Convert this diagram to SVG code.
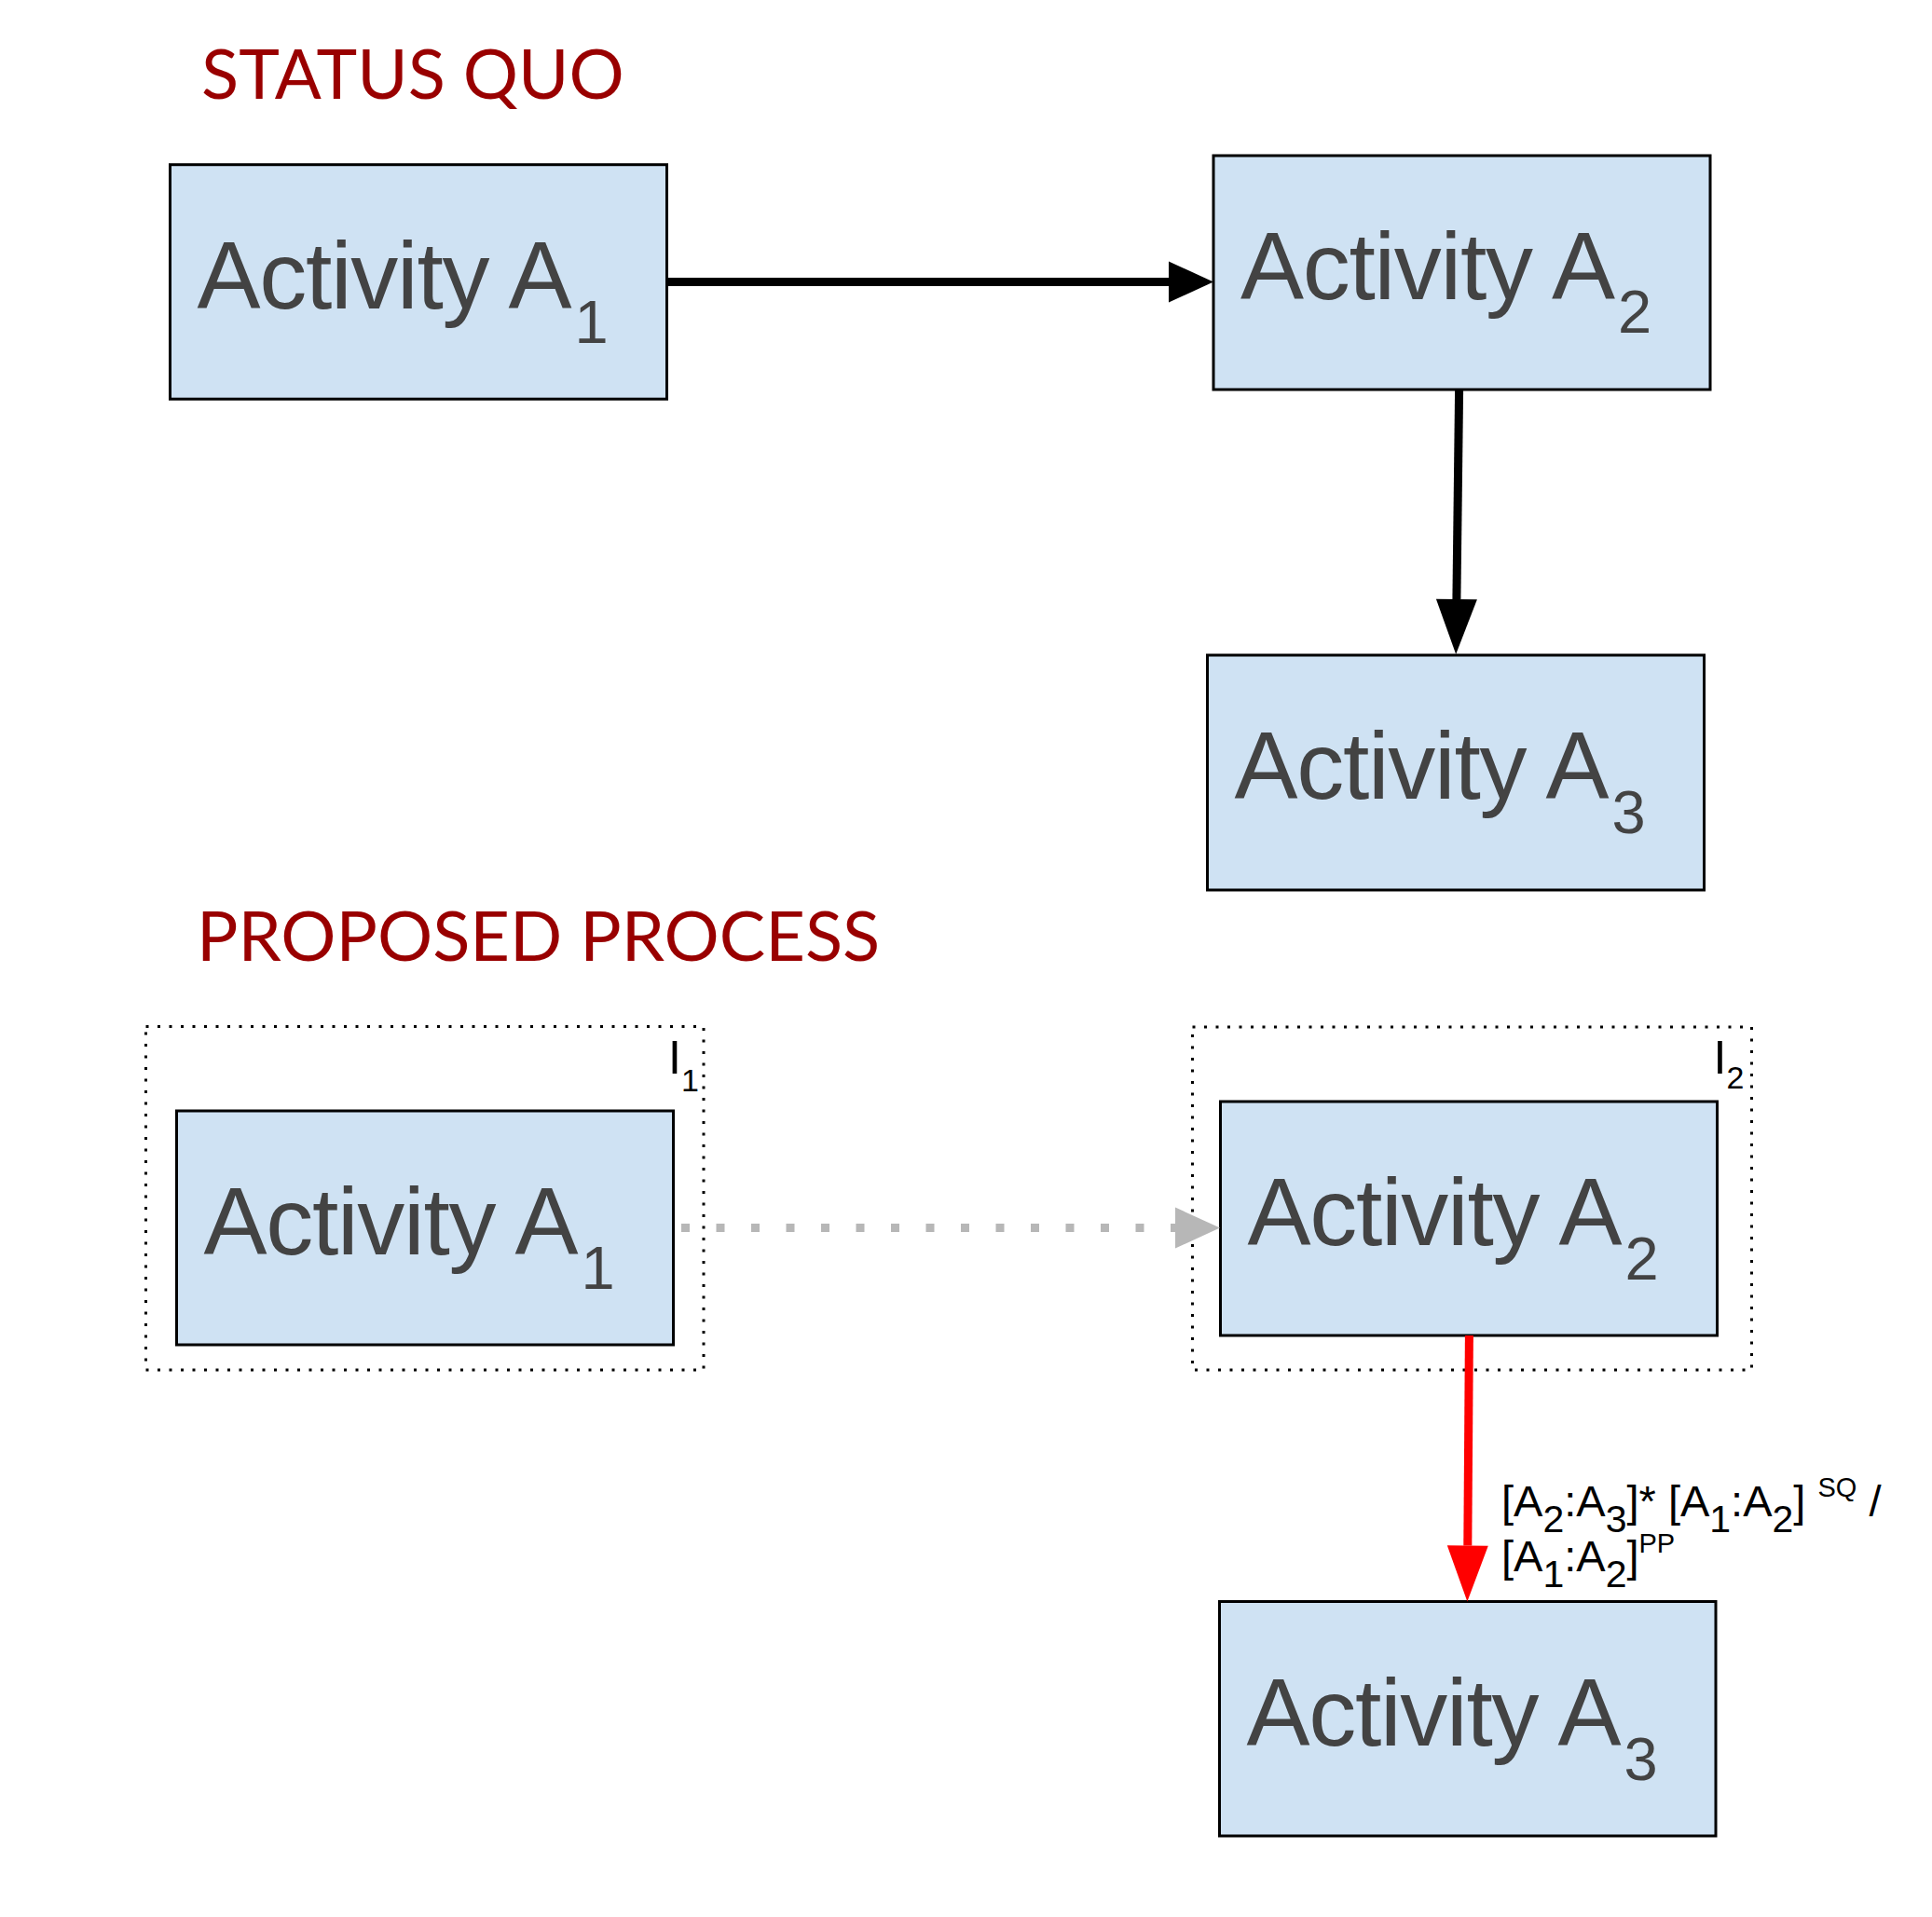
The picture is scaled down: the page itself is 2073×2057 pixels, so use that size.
<svg xmlns="http://www.w3.org/2000/svg" width="2073" height="2057" viewBox="0 0 2073 2057">
<style>
.bg{fill:#ffffff}
.box{fill:#cfe2f3;stroke:#000000;stroke-width:3}
.grp{fill:none;stroke:#000000;stroke-width:3;stroke-dasharray:3 9.5}
.act{font-family:"Liberation Sans",Arial,sans-serif;font-size:102px;fill:#434343;letter-spacing:-1.3px}
.actsub{font-size:65px;letter-spacing:0}
.head{font-family:Lato,"Open Sans",sans-serif;font-size:74px;fill:#990000}
.ilbl{font-family:"Liberation Sans",Arial,sans-serif;font-size:50px;fill:#000000}
.isub{font-size:34px}
.lbl{font-family:"Liberation Sans",Arial,sans-serif;font-size:47px;fill:#000000}
.sub{font-size:41px}
.sup{font-size:29px}
.blk{fill:none;stroke:#000000;stroke-width:9}
.gry{fill:none;stroke:#b7b7b7;stroke-width:9;stroke-dasharray:9 28.5}
.red{fill:none;stroke:#ff0000;stroke-width:9}
</style>
<defs>
<marker id="hBlackS" markerUnits="userSpaceOnUse" markerWidth="48" markerHeight="44" refX="0" refY="22" orient="auto" overflow="visible"><path d="M0,0 L48,22 L0,44 z" fill="#000000"/></marker>
<marker id="hBlackL" markerUnits="userSpaceOnUse" markerWidth="59" markerHeight="44" refX="0" refY="22" orient="auto" overflow="visible"><path d="M0,0 L59,22 L0,44 z" fill="#000000"/></marker>
<marker id="hGreyS" markerUnits="userSpaceOnUse" markerWidth="48" markerHeight="44" refX="0" refY="22" orient="auto" overflow="visible"><path d="M0,0 L48,22 L0,44 z" fill="#b7b7b7"/></marker>
<marker id="hRedL" markerUnits="userSpaceOnUse" markerWidth="60" markerHeight="44" refX="0" refY="22" orient="auto" overflow="visible"><path d="M0,0 L60,22 L0,44 z" fill="#ff0000"/></marker>
</defs>
<rect class="bg" x="0" y="0" width="2073" height="2057"/>

<g id="title-status-quo"><text class="head" x="216" y="106">STATUS QUO</text></g>
<g id="title-proposed"><text class="head" x="211" y="1031">PROPOSED PROCESS</text></g>

<g id="group-I1">
<rect class="grp" x="156.5" y="1101.5" width="598.5" height="368.5"/>
<text class="ilbl" x="717" y="1152">I<tspan class="isub" x="731" y="1171">1</tspan></text>
</g>
<g id="group-I2">
<rect class="grp" x="1279.5" y="1102" width="600" height="368"/>
<text class="ilbl" x="1838.6" y="1152">I<tspan class="isub" x="1852.5" y="1168">2</tspan></text>
</g>

<g id="sq-a1">
<rect class="box" x="182.5" y="176.7" width="533" height="251.5"/>
<text class="act" x="211.5" y="330.7">Activity A<tspan class="actsub" x="616.5" y="367.7">1</tspan></text>
</g>
<g id="sq-a2">
<rect class="box" x="1302" y="167" width="533" height="251"/>
<text class="act" x="1331" y="321">Activity A<tspan class="actsub" x="1736" y="357">2</tspan></text>
</g>
<g id="sq-a3">
<rect class="box" x="1295.5" y="703" width="533" height="252"/>
<text class="act" x="1324.5" y="857">Activity A<tspan class="actsub" x="1729.5" y="894">3</tspan></text>
</g>
<g id="pp-a1">
<rect class="box" x="189.5" y="1192" width="533" height="251"/>
<text class="act" x="218.5" y="1346">Activity A<tspan class="actsub" x="623.5" y="1383">1</tspan></text>
</g>
<g id="pp-a2">
<rect class="box" x="1309.5" y="1182" width="533" height="251"/>
<text class="act" x="1338.5" y="1336">Activity A<tspan class="actsub" x="1743.5" y="1373">2</tspan></text>
</g>
<g id="pp-a3">
<rect class="box" x="1308.5" y="1718.5" width="532.5" height="251.5"/>
<text class="act" x="1337.5" y="1872.5">Activity A<tspan class="actsub" x="1742.5" y="1909.5">3</tspan></text>
</g>

<g id="connectors">
<path class="blk" d="M716,302.5 L1254,302.5" marker-end="url(#hBlackS)"/>
<path class="blk" d="M1565.6,418 L1562.9,643" marker-end="url(#hBlackL)"/>
<path class="gry" d="M731,1317.5 L1261,1317.5" marker-end="url(#hGreyS)"/>
<path class="red" d="M1576.4,1433 L1574.8,1658.5" marker-end="url(#hRedL)"/>
<text class="lbl" x="1611" y="1627">[A<tspan class="sub" dy="17">2</tspan><tspan dy="-17">:A</tspan><tspan class="sub" dy="17">3</tspan><tspan dy="-17">]* [A</tspan><tspan class="sub" dy="17">1</tspan><tspan dy="-17">:A</tspan><tspan class="sub" dy="17">2</tspan><tspan dy="-17">] </tspan><tspan class="sup" dy="-21">SQ</tspan><tspan dy="21"> /</tspan></text>
<text class="lbl" x="1611" y="1686">[A<tspan class="sub" dy="17">1</tspan><tspan dy="-17">:A</tspan><tspan class="sub" dy="17">2</tspan><tspan dy="-17">]</tspan><tspan class="sup" dy="-20">PP</tspan></text>
</g>
</svg>
